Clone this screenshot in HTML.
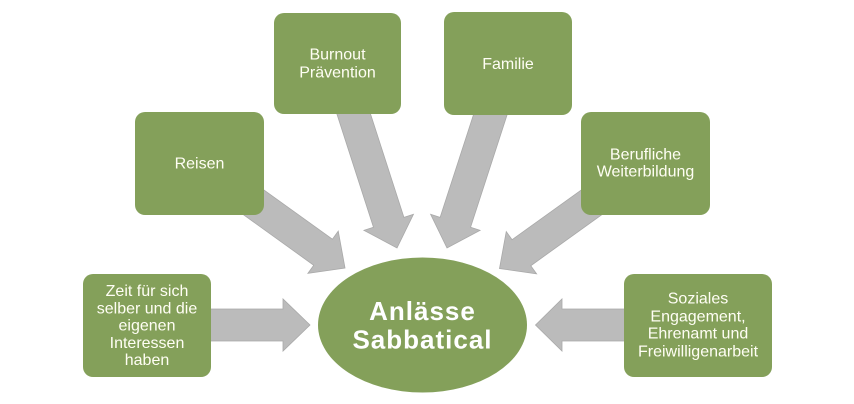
<!DOCTYPE html>
<html>
<head>
<meta charset="utf-8">
<style>
  html, body { margin:0; padding:0; background:#ffffff; }
  body { width:854px; height:404px; overflow:hidden; }
  svg { display:block; }
  .t { font-family:"Liberation Sans", "DejaVu Sans", sans-serif; font-size:16px; fill:#fffef4; text-anchor:middle; }
  .title { font-family:"Liberation Sans", "DejaVu Sans", sans-serif; font-size:26px; font-weight:bold; fill:#ffffff; text-anchor:middle; letter-spacing:1px; }
</style>
</head>
<body>
<svg width="854" height="404" viewBox="0 0 854 404" xmlns="http://www.w3.org/2000/svg">
  <g fill="#bbbbbb" stroke="#a9a9a9" stroke-width="0.8" stroke-linejoin="miter">
    <!-- left horizontal arrow -->
    <polygon points="200,309 283,309 283,299 310,325 283,351 283,341 200,341"/>
    <!-- right horizontal arrow -->
    <polygon points="535.5,325 562,299 562,309 640,309 640,341 562,341 562,351"/>
    <!-- Reisen arrow -->
    <polygon points="-179,-16 -27,-16 -27,-26 0,0 -27,26 -27,16 -179,16" transform="translate(345,268) rotate(35.7)"/>
    <!-- Burnout arrow -->
    <polygon points="-194,-16 -27,-16 -27,-26 0,0 -27,26 -27,16 -194,16" transform="translate(397,248) rotate(72.1)"/>
    <!-- Familie arrow -->
    <polygon points="-194,-16 -27,-16 -27,-26 0,0 -27,26 -27,16 -194,16" transform="translate(447,248) rotate(108)"/>
    <!-- Berufliche arrow -->
    <polygon points="-179,-16 -27,-16 -27,-26 0,0 -27,26 -27,16 -179,16" transform="translate(499.5,268.5) rotate(144.3)"/>
  </g>

  <g fill="#84a05a">
    <rect x="274" y="13" width="127" height="101" rx="10" ry="10"/>
    <rect x="135" y="112" width="129" height="103" rx="10" ry="10"/>
    <rect x="444" y="12" width="128" height="103" rx="10" ry="10"/>
    <rect x="581" y="112" width="129" height="103" rx="10" ry="10"/>
    <rect x="83" y="274" width="128" height="103" rx="10" ry="10"/>
    <rect x="624" y="274" width="148" height="103" rx="10" ry="10"/>
    <ellipse cx="422.5" cy="325" rx="104.5" ry="67.5"/>
  </g>

  <text class="t" x="337.5" y="59.3">Burnout</text>
  <text class="t" x="337.5" y="77.3">Prävention</text>

  <text class="t" x="199.5" y="168.3">Reisen</text>

  <text class="t" x="508" y="69">Familie</text>

  <text class="t" x="645.5" y="159.3">Berufliche</text>
  <text class="t" x="645.5" y="176.7">Weiterbildung</text>

  <text class="t" x="147" y="296">Zeit für sich</text>
  <text class="t" x="147" y="313.3">selber und die</text>
  <text class="t" x="147" y="330.6">eigenen</text>
  <text class="t" x="147" y="347.9">Interessen</text>
  <text class="t" x="147" y="365.2">haben</text>

  <text class="t" x="698" y="303.7">Soziales</text>
  <text class="t" x="698" y="321.3">Engagement,</text>
  <text class="t" x="698" y="338.7">Ehrenamt und</text>
  <text class="t" x="698" y="356.3">Freiwilligenarbeit</text>

  <text class="title" x="422.5" y="320">Anlässe</text>
  <text class="title" x="422.5" y="348.3">Sabbatical</text>
</svg>
</body>
</html>
